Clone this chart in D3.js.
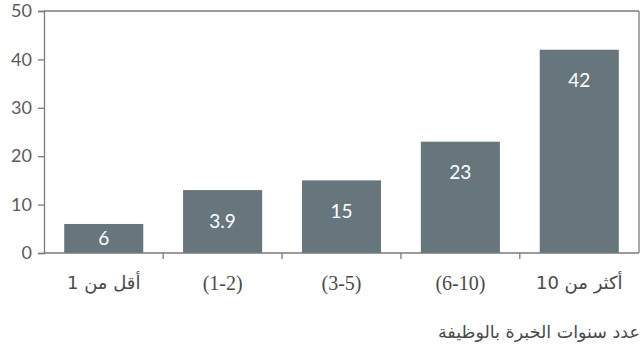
<!DOCTYPE html>
<html><head><meta charset="utf-8">
<script src="https://cdn.jsdelivr.net/npm/d3@7"></script>
<style>body{margin:0;background:#fff}svg{display:block}</style>
</head><body><svg id="c" width="642" height="352"></svg>
<script>
const categories = ["أقل من 1", "(1-2)", "(3-5)", "(6-10)", "أكثر من 10"];
const values = [6, 13, 15, 23, 42];
const valueLabels = ["6", "3.9", "15", "23", "42"];
const yTicks = [0, 10, 20, 30, 40, 50];
const axisTitle = "عدد سنوات الخبرة بالوظيفة";

const svg = d3.select("#c");
const m = {l: 44, r: 3, t: 11, b: 99};
const W = 642, H = 352;
const x = d3.scaleBand().domain(categories).range([m.l, W - m.r]).paddingInner(0.335).paddingOuter(0.17);
const y = d3.scaleLinear().domain([0, 50]).range([H - m.b, m.t]);
const axisColor = "#7a7a7a", textColor = "#5a5a5a";

// frame top & right
svg.append("line").attr("x1", m.l).attr("x2", W - m.r).attr("y1", y(50)).attr("y2", y(50)).attr("stroke", axisColor).attr("stroke-width", 1.3);
svg.append("line").attr("x1", W - m.r).attr("x2", W - m.r).attr("y1", y(50)).attr("y2", y(0)).attr("stroke", axisColor).attr("stroke-width", 1.3);

// bars
svg.selectAll("rect.bar").data(values).join("rect")
  .attr("x", (d, i) => x(categories[i])).attr("width", x.bandwidth())
  .attr("y", d => y(d)).attr("height", d => y(0) - y(d)).attr("fill", "#66767c");

svg.selectAll("text.vl").data(values).join("text")
  .attr("x", (d, i) => x(categories[i]) + x.bandwidth() / 2)
  .attr("y", d => Math.min(y(d) + 31, (y(d) + y(0)) / 2))
  .attr("dy", "0.35em").attr("text-anchor", "middle")
  .attr("fill", "#fff").style("font", "19px Lato, 'Noto Sans', sans-serif")
  .text((d, i) => valueLabels[i]);

// y axis
const ya = svg.append("g").attr("transform", `translate(${m.l},0)`)
  .call(d3.axisLeft(y).tickValues(yTicks).tickSize(6).tickPadding(6));
ya.select(".domain").attr("stroke", axisColor).attr("stroke-width", 1.3);
ya.selectAll(".tick line").attr("stroke", axisColor).attr("stroke-width", 1.3);
ya.selectAll(".tick text").attr("fill", textColor).style("font", "18px Lato, 'Noto Sans', sans-serif");

// x axis
const boundaries = categories.slice(1).map(c => x(c) - x.step() * x.paddingInner() / 2);
const xa = svg.append("g").attr("transform", `translate(0,${y(0)})`);
xa.append("line").attr("x1", m.l).attr("x2", W - m.r).attr("stroke", axisColor).attr("stroke-width", 1.3);
xa.selectAll("line.tk").data(boundaries).join("line").attr("class", "tk")
  .attr("x1", d => d).attr("x2", d => d).attr("y1", 0).attr("y2", 6).attr("stroke", axisColor).attr("stroke-width", 1.3);
xa.selectAll("text").data(categories).join("text")
  .attr("x", d => x(d) + x.bandwidth() / 2).attr("y", 30).attr("dy", "0.35em")
  .attr("text-anchor", "middle").attr("fill", "#4a4a4a")
  .style("font-size", d => d.startsWith("(") ? "20px" : "18px")
  .style("font-family", d => d.startsWith("(") ? "'Liberation Serif', serif" : "'DejaVu Sans', sans-serif")
  .text(d => d);

svg.append("text").attr("x", 640).attr("y", 332).attr("dy", "0.35em")
  .attr("fill", "#4a4a4a").style("font", "17.5px 'DejaVu Sans', sans-serif")
  .attr("direction", "rtl").style("direction", "rtl").attr("text-anchor", "start")
  .text(axisTitle);
</script></body></html>
